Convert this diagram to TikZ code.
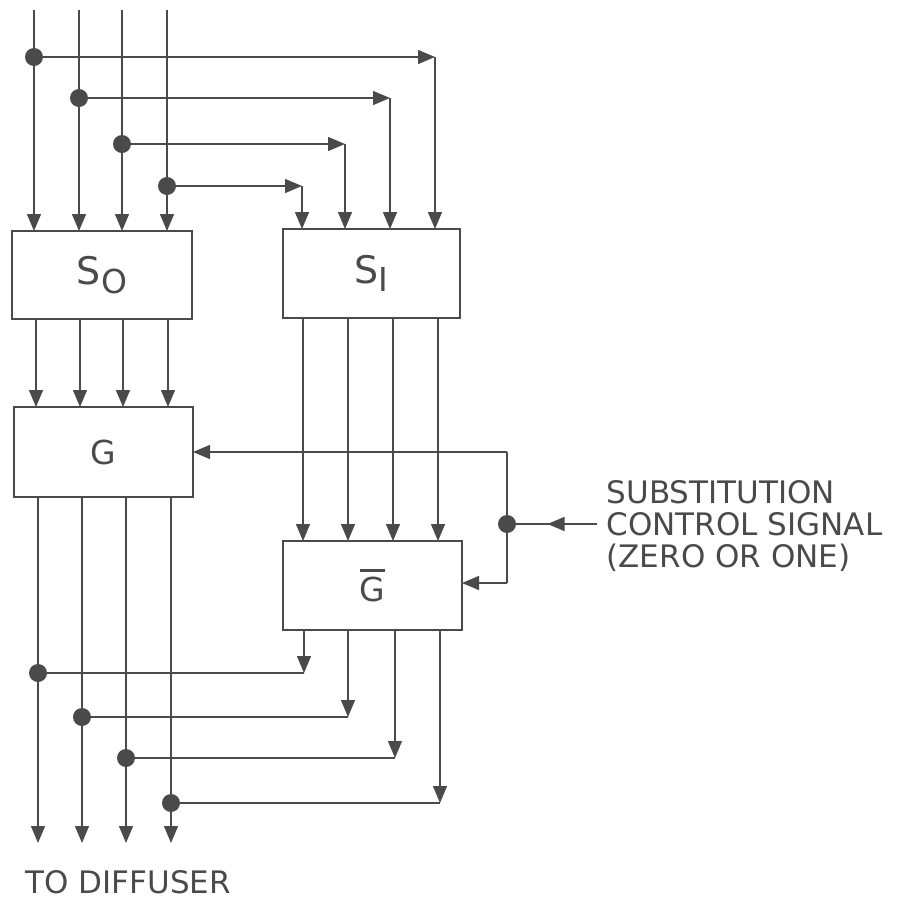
\documentclass[tikz,border=0pt]{standalone}
\usepackage{fontspec}
\setmainfont{DejaVu Sans}
\usetikzlibrary{arrows.meta,decorations.markings}
\definecolor{ink}{HTML}{4A4A4A}
\begin{document}
\begin{tikzpicture}[x=1pt,y=-1pt,line width=1.3pt,color=ink,
  box/.style={draw,line width=2.6pt,inner sep=0pt,outer sep=0pt,
              font=\fontsize{33}{33}\selectfont},
  arr/.style={-{Triangle[length=17pt,width=14pt]}},
  dot/.style={circle,fill=ink,minimum size=18pt,inner sep=0pt},
  lbl/.style={inner sep=0pt,font=\fontsize{31}{32}\selectfont},
  midarr/.style={postaction={decorate},decoration={markings,
      mark=at position 0.55 with {\arrow{Triangle[length=17pt,width=14pt]}}}}]
\useasboundingbox (0,0) rectangle (899,903);

% boxes
\node[box,minimum width=180pt,minimum height=88pt] (S0) at (102,275)
  {\fontsize{38}{38}\selectfont S\raisebox{-0.22em}{\fontsize{33}{33}\selectfont O}};
\node[box,minimum width=177pt,minimum height=89pt] (S1) at (371.5,273.5)
  {\fontsize{38}{38}\selectfont S\raisebox{-0.22em}{\fontsize{33}{33}\selectfont I}};
\node[box,minimum width=179pt,minimum height=90pt] (G) at (103.5,452) {G};
\node[box,minimum width=179pt,minimum height=89pt] (Gb) at (372.5,585.5)
  {\vbox{\hrule height 2.2pt\kern 5pt\hbox{G}}};

% input columns
\coordinate (a1) at (34,10);  \coordinate (a2) at (79,10);
\coordinate (a3) at (122,10); \coordinate (a4) at (167,10);
\coordinate (d1) at (34,57);  \coordinate (d2) at (79,98);
\coordinate (d3) at (122,144);\coordinate (d4) at (167,186);
\coordinate (c1) at (435,57); \coordinate (c2) at (390,98);
\coordinate (c3) at (345,144);\coordinate (c4) at (302,186);

\foreach \i in {1,...,4}{
  \draw[arr] (a\i) -- (a\i |- S0.north);
  \draw[arr] (d\i) -- (c\i);
  \draw[arr] (c\i) -- (c\i |- S1.north);
}

% S0 -> G
\foreach \x in {36,80,123,168}
  \draw[arr] (S0.south -| \x,0) -- (G.north -| \x,0);
% S1 -> Gbar
\foreach \x in {303,348,393,438}
  \draw[arr] (S1.south -| \x,0) -- (Gb.north -| \x,0);

% control signal
\coordinate (src) at (597,524);
\coordinate (j) at (507,524);
\coordinate (t) at (507,452);
\coordinate (b) at (507,583);
\draw[midarr] (src) -- (j);
\draw (t) -- (b);
\draw[arr] (t) -- (G.east);
\draw[arr] (b) -- (Gb.east |- b);

% Gbar outputs
\coordinate (e1) at (304,673); \coordinate (e2) at (348,717);
\coordinate (e3) at (395,758); \coordinate (e4) at (440,803);
\coordinate (f1) at (38,673);  \coordinate (f2) at (82,717);
\coordinate (f3) at (126,758); \coordinate (f4) at (171,803);
\foreach \i in {1,...,4}{
  \draw[arr] (Gb.south -| e\i) -- (e\i);
  \draw (e\i) -- (f\i);
  \draw[arr] (G.south -| f\i) -- (f\i |- 0,843);
}

% dots
\foreach \p in {d1,d2,d3,d4,f1,f2,f3,f4,j}
  \node[dot] at (\p) {};

% texts
\node[lbl,align=left,anchor=west] (ctl) at (606,526)
  {SUBSTITUTION\\CONTROL SIGNAL\\(ZERO OR ONE)};
\node[lbl,anchor=base west] (dif) at (25,893) {TO DIFFUSER};
\end{tikzpicture}
\end{document}
